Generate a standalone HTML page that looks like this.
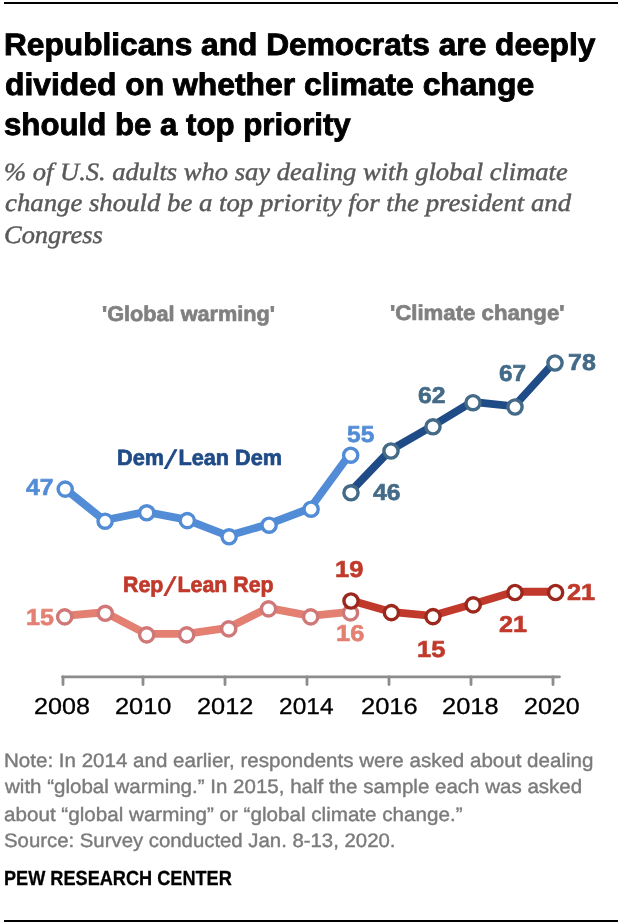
<!DOCTYPE html>
<html><head><meta charset="utf-8"><title>Pew chart</title>
<style>
html,body{margin:0;padding:0;background:#fff;}
body{width:620px;height:924px;position:relative;overflow:hidden;font-family:"Liberation Sans",sans-serif;}
.rule{position:absolute;left:4px;width:614px;height:2px;background:#000;}
.t{position:absolute;white-space:pre;transform-origin:0 0;line-height:1;text-rendering:geometricPrecision;}
.sl{display:inline-block;transform:translateY(0.09em) skewX(-21deg) scaleY(1.15);margin:0 0.22em 0 0.17em;}
svg{position:absolute;left:0;top:0;}
#wrap{position:absolute;left:0;top:0;width:620px;height:924px;will-change:transform;}
</style></head>
<body>
<div id="wrap">
<div class="rule" style="top:2px"></div>
<div class="rule" style="top:920px"></div>
<svg width="620" height="924" viewBox="0 0 620 924">
<path d="M62.5,676.8 H559.5" stroke="#8c8c8c" stroke-width="2.8" stroke-linecap="round" fill="none"/>
<path d="M63,676.8 V684.5" stroke="#8c8c8c" stroke-width="2.8" stroke-linecap="round" fill="none"/>
<path d="M143,676.8 V684.5" stroke="#8c8c8c" stroke-width="2.8" stroke-linecap="round" fill="none"/>
<path d="M225,676.8 V684.5" stroke="#8c8c8c" stroke-width="2.8" stroke-linecap="round" fill="none"/>
<path d="M307,676.8 V684.5" stroke="#8c8c8c" stroke-width="2.8" stroke-linecap="round" fill="none"/>
<path d="M389,676.8 V684.5" stroke="#8c8c8c" stroke-width="2.8" stroke-linecap="round" fill="none"/>
<path d="M471,676.8 V684.5" stroke="#8c8c8c" stroke-width="2.8" stroke-linecap="round" fill="none"/>
<path d="M553,676.8 V684.5" stroke="#8c8c8c" stroke-width="2.8" stroke-linecap="round" fill="none"/>
<path d="M64.24,488.15 L104.14,520.25 L145.74,511.85 L186.34,519.65 L228.14,535.85 L268.14,524.25 L310.14,508.25 L349.74,454.25" fill="none" stroke="#528cd6" stroke-width="7.8" stroke-linejoin="round" stroke-linecap="round"/>
<circle cx="65.20" cy="489.10" r="7.1" fill="#fff" stroke="#528cd6" stroke-width="3.4"/>
<circle cx="105.10" cy="521.20" r="7.1" fill="#fff" stroke="#528cd6" stroke-width="3.4"/>
<circle cx="146.70" cy="512.80" r="7.1" fill="#fff" stroke="#528cd6" stroke-width="3.4"/>
<circle cx="187.30" cy="520.60" r="7.1" fill="#fff" stroke="#528cd6" stroke-width="3.4"/>
<circle cx="229.10" cy="536.80" r="7.1" fill="#fff" stroke="#528cd6" stroke-width="3.4"/>
<circle cx="269.10" cy="525.20" r="7.1" fill="#fff" stroke="#528cd6" stroke-width="3.4"/>
<circle cx="311.10" cy="509.20" r="7.1" fill="#fff" stroke="#528cd6" stroke-width="3.4"/>
<circle cx="350.70" cy="455.20" r="7.1" fill="#fff" stroke="#528cd6" stroke-width="3.4"/>

<path d="M64.14,615.85 L104.74,612.25 L146.14,633.85 L186.14,633.85 L228.14,627.85 L267.94,607.85 L310.14,615.85 L349.94,611.85" fill="none" stroke="#e38072" stroke-width="7.8" stroke-linejoin="round" stroke-linecap="round"/>
<circle cx="64.70" cy="616.90" r="7.1" fill="#fff" stroke="#d07877" stroke-width="3.4"/>
<circle cx="105.30" cy="613.30" r="7.1" fill="#fff" stroke="#d07877" stroke-width="3.4"/>
<circle cx="146.70" cy="634.90" r="7.1" fill="#fff" stroke="#d07877" stroke-width="3.4"/>
<circle cx="186.70" cy="634.90" r="7.1" fill="#fff" stroke="#d07877" stroke-width="3.4"/>
<circle cx="228.70" cy="628.90" r="7.1" fill="#fff" stroke="#d07877" stroke-width="3.4"/>
<circle cx="268.50" cy="608.90" r="7.1" fill="#fff" stroke="#d07877" stroke-width="3.4"/>
<circle cx="310.70" cy="616.90" r="7.1" fill="#fff" stroke="#d07877" stroke-width="3.4"/>
<circle cx="350.50" cy="612.90" r="7.1" fill="#fff" stroke="#d07877" stroke-width="3.4"/>

<path d="M350.14,492.05 L390.14,450.25 L432.14,426.05 L472.14,401.95 L514.14,406.25 L554.14,362.25" fill="none" stroke="#1f4b87" stroke-width="7.8" stroke-linejoin="round" stroke-linecap="round"/>
<circle cx="351.00" cy="492.80" r="7.1" fill="#fff" stroke="#436a87" stroke-width="3.4"/>
<circle cx="391.00" cy="451.00" r="7.1" fill="#fff" stroke="#436a87" stroke-width="3.4"/>
<circle cx="433.00" cy="426.80" r="7.1" fill="#fff" stroke="#436a87" stroke-width="3.4"/>
<circle cx="473.00" cy="402.70" r="7.1" fill="#fff" stroke="#436a87" stroke-width="3.4"/>
<circle cx="515.00" cy="407.00" r="7.1" fill="#fff" stroke="#436a87" stroke-width="3.4"/>
<circle cx="555.00" cy="363.00" r="7.1" fill="#fff" stroke="#436a87" stroke-width="3.4"/>

<path d="M350.14,600.25 L390.54,611.85 L432.14,615.85 L472.34,604.15 L514.14,591.75 L554.74,591.75" fill="none" stroke="#c0392b" stroke-width="7.8" stroke-linejoin="round" stroke-linecap="round"/>
<circle cx="351.00" cy="601.00" r="7.1" fill="#fff" stroke="#9c271c" stroke-width="3.4"/>
<circle cx="391.40" cy="612.60" r="7.1" fill="#fff" stroke="#9c271c" stroke-width="3.4"/>
<circle cx="433.00" cy="616.60" r="7.1" fill="#fff" stroke="#9c271c" stroke-width="3.4"/>
<circle cx="473.20" cy="604.90" r="7.1" fill="#fff" stroke="#9c271c" stroke-width="3.4"/>
<circle cx="515.00" cy="592.50" r="7.1" fill="#fff" stroke="#9c271c" stroke-width="3.4"/>
<circle cx="555.60" cy="592.50" r="7.1" fill="#fff" stroke="#9c271c" stroke-width="3.4"/>

</svg>
<div class="t" style="left:4.31px;top:29.26px;font-family:'Liberation Sans',sans-serif;font-weight:bold;font-style:normal;font-size:31px;color:#000;transform:scaleX(1.0216);-webkit-text-stroke:0.9px;">Republicans and Democrats are deeply</div>
<div class="t" style="left:4.63px;top:69.06px;font-family:'Liberation Sans',sans-serif;font-weight:bold;font-style:normal;font-size:31px;color:#000;transform:scaleX(1.0273);-webkit-text-stroke:0.9px;">divided on whether climate change</div>
<div class="t" style="left:3.90px;top:108.76px;font-family:'Liberation Sans',sans-serif;font-weight:bold;font-style:normal;font-size:31px;color:#000;transform:scaleX(1.0065);-webkit-text-stroke:0.9px;">should be a top priority</div>
<div class="t" style="left:3.77px;top:159.71px;font-family:'Liberation Serif',serif;font-weight:normal;font-style:italic;font-size:25px;color:#595959;transform:scaleX(1.0612);-webkit-text-stroke:0.45px;">% of U.S. adults who say dealing with global climate</div>
<div class="t" style="left:4.56px;top:191.41px;font-family:'Liberation Serif',serif;font-weight:normal;font-style:italic;font-size:25px;color:#595959;transform:scaleX(1.0703);-webkit-text-stroke:0.45px;">change should be a top priority for the president and</div>
<div class="t" style="left:3.78px;top:223.12px;font-family:'Liberation Serif',serif;font-weight:normal;font-style:italic;font-size:25px;color:#595959;transform:scaleX(1.0572);-webkit-text-stroke:0.45px;">Congress</div>
<div class="t" style="left:3.92px;top:752.32px;font-family:'Liberation Sans',sans-serif;font-weight:normal;font-style:normal;font-size:19.5px;color:#7b7b7b;transform:scaleX(1.0536);-webkit-text-stroke:0.4px;">Note: In 2014 and earlier, respondents were asked about dealing</div>
<div class="t" style="left:5.06px;top:778.22px;font-family:'Liberation Sans',sans-serif;font-weight:normal;font-style:normal;font-size:19.5px;color:#7b7b7b;transform:scaleX(1.0523);-webkit-text-stroke:0.4px;">with “global warming.” In 2015, half the sample each was asked</div>
<div class="t" style="left:3.91px;top:805.72px;font-family:'Liberation Sans',sans-serif;font-weight:normal;font-style:normal;font-size:19.5px;color:#7b7b7b;transform:scaleX(1.0577);-webkit-text-stroke:0.4px;">about “global warming” or “global climate change.”</div>
<div class="t" style="left:3.62px;top:831.92px;font-family:'Liberation Sans',sans-serif;font-weight:normal;font-style:normal;font-size:19.5px;color:#7b7b7b;transform:scaleX(1.0436);-webkit-text-stroke:0.4px;">Source: Survey conducted Jan. 8-13, 2020.</div>
<div class="t" style="left:4.39px;top:868.85px;font-family:'Liberation Sans',sans-serif;font-weight:bold;font-style:normal;font-size:20.5px;color:#000;transform:scaleX(0.8848);-webkit-text-stroke:0.3px;">PEW RESEARCH CENTER</div>
<div class="t" style="left:34.21px;top:694.75px;font-family:'Liberation Sans',sans-serif;font-weight:normal;font-style:normal;font-size:23px;color:#000;transform:scaleX(1.0924);-webkit-text-stroke:0.3px;">2008</div>
<div class="t" style="left:114.90px;top:694.75px;font-family:'Liberation Sans',sans-serif;font-weight:normal;font-style:normal;font-size:23px;color:#000;transform:scaleX(1.1030);-webkit-text-stroke:0.3px;">2010</div>
<div class="t" style="left:197.00px;top:694.75px;font-family:'Liberation Sans',sans-serif;font-weight:normal;font-style:normal;font-size:23px;color:#000;transform:scaleX(1.1025);-webkit-text-stroke:0.3px;">2012</div>
<div class="t" style="left:278.93px;top:694.75px;font-family:'Liberation Sans',sans-serif;font-weight:normal;font-style:normal;font-size:23px;color:#000;transform:scaleX(1.0653);-webkit-text-stroke:0.3px;">2014</div>
<div class="t" style="left:360.69px;top:694.75px;font-family:'Liberation Sans',sans-serif;font-weight:normal;font-style:normal;font-size:23px;color:#000;transform:scaleX(1.1086);-webkit-text-stroke:0.3px;">2016</div>
<div class="t" style="left:441.80px;top:694.75px;font-family:'Liberation Sans',sans-serif;font-weight:normal;font-style:normal;font-size:23px;color:#000;transform:scaleX(1.1046);-webkit-text-stroke:0.3px;">2018</div>
<div class="t" style="left:524.41px;top:694.75px;font-family:'Liberation Sans',sans-serif;font-weight:normal;font-style:normal;font-size:23px;color:#000;transform:scaleX(1.0869);-webkit-text-stroke:0.3px;">2020</div>
<div class="t" style="left:26.20px;top:476.33px;font-family:'Liberation Sans',sans-serif;font-weight:bold;font-style:normal;font-size:23px;color:#528cd6;transform:scaleX(1.0720);-webkit-text-stroke:0.6px;">47</div>
<div class="t" style="left:347.47px;top:423.33px;font-family:'Liberation Sans',sans-serif;font-weight:bold;font-style:normal;font-size:23px;color:#528cd6;transform:scaleX(1.0667);-webkit-text-stroke:0.6px;">55</div>
<div class="t" style="left:373.00px;top:480.73px;font-family:'Liberation Sans',sans-serif;font-weight:bold;font-style:normal;font-size:23px;color:#436a87;transform:scaleX(1.0720);-webkit-text-stroke:0.6px;">46</div>
<div class="t" style="left:417.86px;top:383.93px;font-family:'Liberation Sans',sans-serif;font-weight:bold;font-style:normal;font-size:23px;color:#436a87;transform:scaleX(1.0776);-webkit-text-stroke:0.6px;">62</div>
<div class="t" style="left:499.27px;top:362.03px;font-family:'Liberation Sans',sans-serif;font-weight:bold;font-style:normal;font-size:23px;color:#436a87;transform:scaleX(1.0612);-webkit-text-stroke:0.6px;">67</div>
<div class="t" style="left:567.59px;top:350.73px;font-family:'Liberation Sans',sans-serif;font-weight:bold;font-style:normal;font-size:23px;color:#436a87;transform:scaleX(1.0857);-webkit-text-stroke:0.6px;">78</div>
<div class="t" style="left:25.64px;top:605.73px;font-family:'Liberation Sans',sans-serif;font-weight:bold;font-style:normal;font-size:23px;color:#e38072;transform:scaleX(1.0917);-webkit-text-stroke:0.6px;">15</div>
<div class="t" style="left:335.92px;top:622.33px;font-family:'Liberation Sans',sans-serif;font-weight:bold;font-style:normal;font-size:23px;color:#e38072;transform:scaleX(1.1074);-webkit-text-stroke:0.6px;">16</div>
<div class="t" style="left:334.82px;top:557.73px;font-family:'Liberation Sans',sans-serif;font-weight:bold;font-style:normal;font-size:23px;color:#c0392b;transform:scaleX(1.1074);-webkit-text-stroke:0.6px;">19</div>
<div class="t" style="left:416.81px;top:637.73px;font-family:'Liberation Sans',sans-serif;font-weight:bold;font-style:normal;font-size:23px;color:#c0392b;transform:scaleX(1.1083);-webkit-text-stroke:0.6px;">15</div>
<div class="t" style="left:499.15px;top:613.43px;font-family:'Liberation Sans',sans-serif;font-weight:bold;font-style:normal;font-size:23px;color:#c0392b;transform:scaleX(1.0949);-webkit-text-stroke:0.6px;">21</div>
<div class="t" style="left:567.45px;top:581.33px;font-family:'Liberation Sans',sans-serif;font-weight:bold;font-style:normal;font-size:23px;color:#c0392b;transform:scaleX(1.1030);-webkit-text-stroke:0.6px;">21</div>
<div class="t" style="left:116.72px;top:447.18px;font-family:'Liberation Sans',sans-serif;font-weight:bold;font-style:normal;font-size:22px;color:#1f4b87;transform:scaleX(0.9849);-webkit-text-stroke:0.7px;">Dem<span class="sl">/</span>Lean Dem</div>
<div class="t" style="left:123.43px;top:573.88px;font-family:'Liberation Sans',sans-serif;font-weight:bold;font-style:normal;font-size:22px;color:#c0392b;transform:scaleX(0.9698);-webkit-text-stroke:0.7px;">Rep<span class="sl">/</span>Lean Rep</div>
<div class="t" style="left:101.54px;top:304.47px;font-family:'Liberation Sans',sans-serif;font-weight:bold;font-style:normal;font-size:21.3px;color:#808080;transform:scaleX(1.0184);-webkit-text-stroke:0.7px;">'Global warming'</div>
<div class="t" style="left:389.62px;top:302.57px;font-family:'Liberation Sans',sans-serif;font-weight:bold;font-style:normal;font-size:21.3px;color:#808080;transform:scaleX(1.0416);-webkit-text-stroke:0.7px;">'Climate change'</div>
</div>
</body></html>
